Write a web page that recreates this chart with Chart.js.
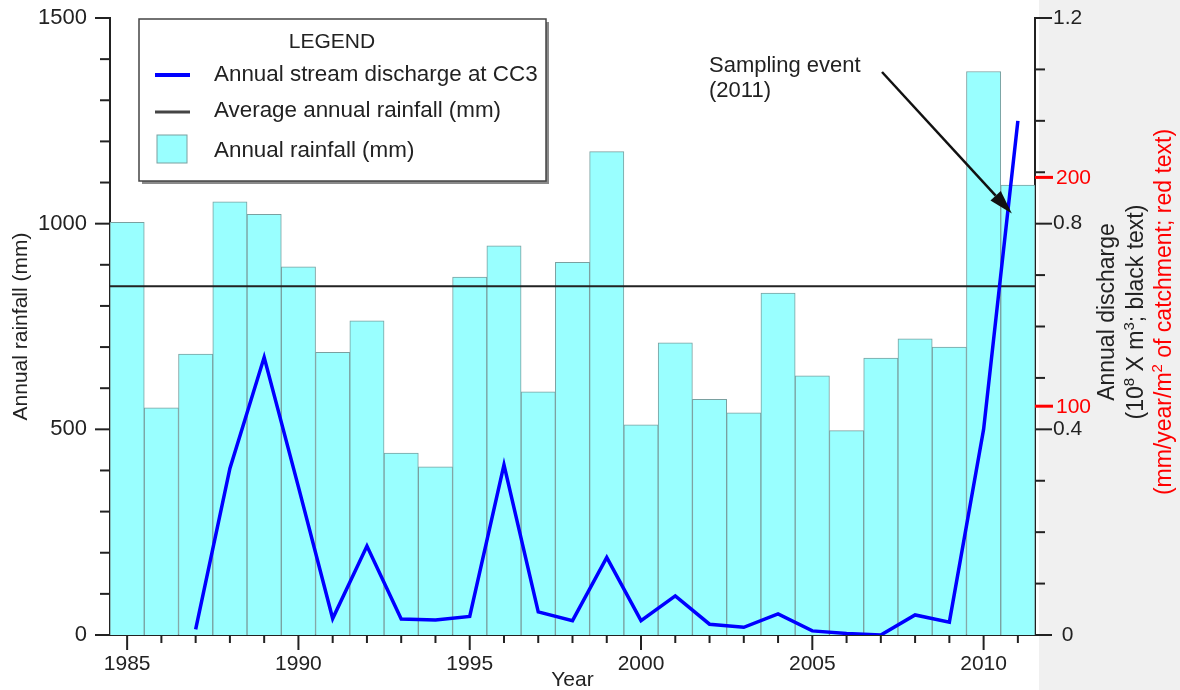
<!DOCTYPE html>
<html>
<head>
<meta charset="utf-8">
<script src="https://cdn.jsdelivr.net/npm/chart.js@4.4.0/dist/chart.umd.min.js"></script>
<style>
  html, body { margin: 0; padding: 0; background: #fff; }
  #wrap { width: 1180px; height: 690px; }
</style>
</head>
<body>
<div id="wrap"><canvas id="chart" width="1180" height="690"></canvas></div>
<script>
// --- data ---
const years = ['1985', '1986', '1987', '1988', '1989', '1990', '1991', '1992', '1993', '1994',
               '1995', '1996', '1997', '1998', '1999', '2000', '2001', '2002', '2003', '2004',
               '2005', '2006', '2007', '2008', '2009', '2010', '2011'];
const rainfall = [1003, 552, 683, 1053, 1023, 895, 687, 764, 442, 409,
                  870, 946, 591, 906, 1175, 511, 710, 573, 540, 831,
                  630, 497, 673, 720, 700, 1370, 1094];
// 10^8 m3 per year, no record before 1987
const discharge = [null, null, 0.011, 0.324, 0.54, 0.288, 0.032, 0.173, 0.031, 0.029,
                   0.036, 0.331, 0.045, 0.028, 0.151, 0.028, 0.076, 0.021, 0.015, 0.041,
                   0.008, 0.003, 0.0, 0.039, 0.025, 0.40, 1.0];
const avgRainfall = 848;
const rainTicks = [0, 500, 1000, 1500];
const dischargeTicks = [0, 0.4, 0.8, 1.2];
const catchmentTicks = [100, 200];     // mm/year/m2 (red)
const mmToDischarge = 0.00445;         // 1 mm/year -> 10^8 m3
const samplingYear = '2011';
const samplingValue = 0.82;

const FONT = '"Liberation Sans", Arial, Helvetica, sans-serif';
Chart.defaults.font.family = FONT;
Chart.defaults.color = '#222';

const CYAN = '#99ffff';
const BAR_EDGE = '#7aa0a0';
const BLUE = '#0000ff';
const RED = '#ff0000';

// white page, grey strip on the right
const backgroundPlugin = {
    id: 'background',
    beforeDraw(chart) {
        const c = chart.ctx;
        c.save();
        c.fillStyle = '#ffffff';
        c.fillRect(0, 0, chart.width, chart.height);
        c.fillStyle = '#f0f0f0';
        c.fillRect(1039, 0, chart.width - 1039, chart.height);
        c.restore();
    }
};

// average rainfall line, between bars and the discharge line
const averagePlugin = {
    id: 'averageLine',
    afterDatasetDraw(chart, args) {
        if (args.index !== 1) return;
        const c = chart.ctx;
        const area = chart.chartArea;
        const y = chart.scales.y.getPixelForValue(avgRainfall);
        c.save();
        c.strokeStyle = '#222';
        c.lineWidth = 2;
        c.beginPath();
        c.moveTo(area.left, y);
        c.lineTo(area.right, y);
        c.stroke();
        c.restore();
    }
};

function tick(c, x1, y1, x2, y2) {
    c.beginPath();
    c.moveTo(x1, y1);
    c.lineTo(x2, y2);
    c.stroke();
}

// rotated line of text with optional superscripts
function drawRotated(c, parts, cx, cy, size, color) {
    c.save();
    c.translate(cx, cy);
    c.rotate(-Math.PI / 2);
    c.fillStyle = color;
    c.textBaseline = 'middle';
    c.textAlign = 'left';
    let total = 0;
    parts.forEach(p => {
        c.font = `${p.sup ? Math.round(size * 0.65) : size}px ${FONT}`;
        p.w = c.measureText(p.t).width;
        total += p.w;
    });
    let x = -total / 2;
    parts.forEach(p => {
        c.font = `${p.sup ? Math.round(size * 0.65) : size}px ${FONT}`;
        c.fillText(p.t, x, p.sup ? -size * 0.33 : 0);
        x += p.w;
    });
    c.restore();
}

const decorPlugin = {
    id: 'decor',
    afterDraw(chart) {
        const c = chart.ctx;
        const {x, y, y2} = chart.scales;
        const area = chart.chartArea;
        c.save();
        c.strokeStyle = '#222';
        c.lineWidth = 2;

        // left axis tick marks
        for (let v = 0; v <= 1500; v += 100) {
            const py = y.getPixelForValue(v);
            tick(c, area.left - (v % 500 === 0 ? 15 : 10), py, area.left, py);
        }
        // year tick marks
        years.forEach((yr, i) => {
            const px = x.getPixelForValue(i);
            tick(c, px, area.bottom, px, area.bottom + (+yr % 5 === 0 ? 15 : 8));
        });
        // right axis tick marks
        for (let k = 0; k <= 12; k++) {
            const py = y2.getPixelForValue(k / 10);
            tick(c, area.right, py, area.right + (k % 4 === 0 ? 17 : 10), py);
        }
        // red catchment ticks and labels
        c.strokeStyle = RED;
        c.lineWidth = 3;
        c.fillStyle = RED;
        c.font = `21px ${FONT}`;
        c.textAlign = 'left';
        c.textBaseline = 'middle';
        catchmentTicks.forEach(v => {
            const py = y2.getPixelForValue(v * mmToDischarge);
            tick(c, area.right, py, area.right + 18, py);
            c.fillText(String(v), area.right + 21, py + 1);
        });

        // right axis titles
        const midY = 312;
        drawRotated(c, [{t: 'Annual discharge'}], 1108, midY, 23, '#222');
        drawRotated(c, [{t: '(10'}, {t: '8', sup: true}, {t: ' X m'}, {t: '3', sup: true}, {t: '; black text)'}],
            1137, midY, 23, '#222');
        drawRotated(c, [{t: '(mm/year/m'}, {t: '2', sup: true}, {t: ' of catchment; red text)'}],
            1165, midY, 23, RED);

        // legend box
        const L = 139, T = 19, R = 546, B = 181;
        c.fillStyle = '#8a8a8a';
        c.fillRect(L + 3, T + 3, R - L, B - T);
        c.fillStyle = '#ffffff';
        c.fillRect(L, T, R - L, B - T);
        c.strokeStyle = '#444';
        c.lineWidth = 1.5;
        c.strokeRect(L, T, R - L, B - T);
        c.fillStyle = '#222';
        c.font = `21px ${FONT}`;
        c.textAlign = 'center';
        c.fillText('LEGEND', 332, 42);
        c.textAlign = 'left';
        c.font = `22.4px ${FONT}`;
        c.strokeStyle = BLUE;
        c.lineWidth = 4;
        tick(c, 155, 75, 190, 75);
        c.fillText(chart.data.datasets[0].label, 214, 75);
        c.strokeStyle = '#444';
        c.lineWidth = 3;
        tick(c, 155, 112, 190, 112);
        c.fillText('Average annual rainfall (mm)', 214, 111);
        c.fillStyle = CYAN;
        c.fillRect(157, 135, 30, 28);
        c.strokeStyle = BAR_EDGE;
        c.lineWidth = 1;
        c.strokeRect(157, 135, 30, 28);
        c.fillStyle = '#222';
        c.fillText(chart.data.datasets[1].label, 214, 151);

        // sampling event annotation
        c.font = `22px ${FONT}`;
        c.fillText('Sampling event', 709, 66);
        c.fillText('(2011)', 709, 91);
        const tipX = x.getPixelForValue(years.indexOf(samplingYear)) - 6;
        const tipY = y2.getPixelForValue(samplingValue);
        const sx = 882, sy = 72;
        const ang = Math.atan2(tipY - sy, tipX - sx);
        const hl = 24, hw = 7;
        const bx = tipX - hl * Math.cos(ang), by = tipY - hl * Math.sin(ang);
        c.strokeStyle = '#111';
        c.lineWidth = 2.5;
        tick(c, sx, sy, bx, by);
        c.fillStyle = '#111';
        c.beginPath();
        c.moveTo(tipX, tipY);
        c.lineTo(bx + hw * Math.sin(ang), by - hw * Math.cos(ang));
        c.lineTo(bx - hw * Math.sin(ang), by + hw * Math.cos(ang));
        c.closePath();
        c.fill();
        c.restore();
    }
};

// keep the label padding from pushing the plot area around
function noPad(s) {
    s.paddingTop = 0;
    s.paddingBottom = 0;
    s.paddingLeft = 0;
    s.paddingRight = 0;
}

const ctx = document.getElementById('chart').getContext('2d');
new Chart(ctx, {
    type: 'bar',
    data: {
        labels: years,
        datasets: [
            {
                type: 'line',
                label: 'Annual stream discharge at CC3',
                data: discharge,
                yAxisID: 'y2',
                borderColor: BLUE,
                borderWidth: 3.5,
                pointRadius: 0,
                tension: 0,
                spanGaps: false,
                order: 0
            },
            {
                type: 'bar',
                label: 'Annual rainfall (mm)',
                data: rainfall,
                yAxisID: 'y',
                backgroundColor: CYAN,
                borderColor: BAR_EDGE,
                borderWidth: 1,
                categoryPercentage: 1,
                barPercentage: 1,
                order: 1
            }
        ]
    },
    options: {
        responsive: false,
        animation: false,
        devicePixelRatio: 1,
        layout: { padding: { top: 18, left: 0, right: 0, bottom: 0 } },
        plugins: { legend: { display: false }, tooltip: { enabled: false } },
        scales: {
            x: {
                type: 'category',
                offset: true,
                grid: { display: false },
                border: { display: true, color: '#222', width: 2 },
                ticks: {
                    autoSkip: false,
                    maxRotation: 0,
                    padding: 9,
                    color: '#222',
                    font: { size: 21 },
                    callback(v) {
                        const l = this.getLabelForValue(v);
                        return (+l) % 5 === 0 ? l : '';
                    }
                },
                title: { display: true, text: 'Year', color: '#222', font: { size: 21 }, padding: { top: 0, bottom: -3 } },
                afterFit(s) { s.height = 55; noPad(s); }
            },
            y: {
                position: 'left',
                min: 0,
                max: 1500,
                grid: { display: false },
                border: { display: true, color: '#222', width: 2 },
                ticks: {
                    stepSize: 100,
                    padding: 15,
                    color: '#222',
                    font: { size: 22 },
                    callback: v => rainTicks.includes(v) ? String(v) : ''
                },
                title: { display: true, text: 'Annual rainfall (mm)', color: '#222', font: { size: 21 }, padding: { top: 9, bottom: 0 } },
                afterFit(s) { s.width = 110; noPad(s); }
            },
            y2: {
                position: 'right',
                min: 0,
                max: 1.2,
                grid: { display: false },
                border: { display: true, color: '#222', width: 2 },
                ticks: {
                    stepSize: 0.1,
                    padding: 10,
                    crossAlign: 'center',
                    color: '#222',
                    font: { size: 21 },
                    callback: v => {
                        const t = Math.round(v * 10) / 10;
                        return dischargeTicks.includes(t) ? String(t) : '';
                    }
                },
                afterFit(s) { s.width = 145; noPad(s); }
            }
        }
    },
    plugins: [backgroundPlugin, averagePlugin, decorPlugin]
});
</script>
</body>
</html>
